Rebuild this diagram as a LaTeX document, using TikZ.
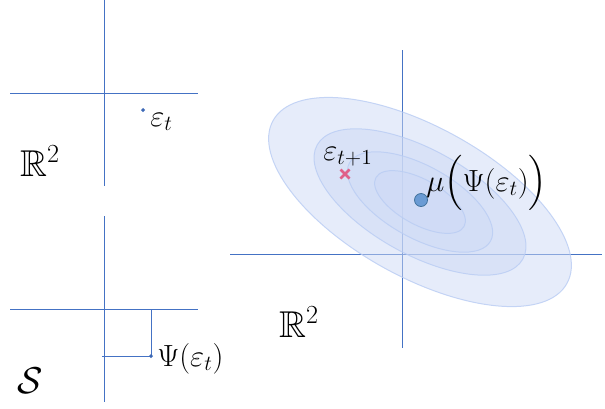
\RequirePackage{fix-cm}
\documentclass[tikz,border=0pt]{standalone}
\usepackage{amsmath}
\usepackage{amssymb}
\usepackage{tikz}
\DeclareFontFamily{U}{msb}{}
\DeclareFontShape{U}{msb}{m}{n}{<-> msbm10}{}

\definecolor{axe}{HTML}{4472C4}
\definecolor{nuage}{HTML}{CDD9F5}
\definecolor{bord}{HTML}{B9CCF3}
\definecolor{croix}{HTML}{E0608A}
\definecolor{moy}{HTML}{6A9BD4}
\definecolor{moybord}{HTML}{41719C}

\begin{document}
\begin{tikzpicture}[x=0.75pt,y=-0.75pt,
    axe/.style={draw=axe, line width=0.75pt},
    etiq/.style={inner sep=0pt, font=\fontsize{23}{27}\selectfont},
    espace/.style={inner sep=0pt, font=\fontsize{28}{32}\selectfont},
    niveau/.style={fill=nuage, fill opacity=0.5, draw=bord, draw opacity=0.8, line width=0.75pt}]
        \useasboundingbox (0,0) rectangle (605,408);

        % Espace de depart R^2
        \draw[axe] (104,0) -- (104,186);
        \draw[axe] (10,93) -- (198,93);
        \coordinate (eps) at (143,110);
        \fill[axe] (eps) circle (1.3);
        \node[etiq, anchor=base west] (epsl) at (150,126) {$\varepsilon_t$};
        \node[espace, anchor=base west] (R1) at (20,176) {$\mathbb{R}^2$};

        % Espace des etats S
        \draw[axe] (104,216) -- (104,402);
        \draw[axe] (10,309) -- (198,309);
        \coordinate (psi) at (151,356);
        \draw[axe] (151,309) -- (psi) -- (102,356);
        \fill[axe] (psi) circle (1.3);
        \node[etiq, anchor=base west] (psil) at (157,366) {$\Psi(\varepsilon_t)$};
        \node[espace, anchor=base west] (S) at (17,393) {$\mathcal{S}$};

        % Loi predictive
        \draw[axe] (402,50) -- (402,348);
        \draw[axe] (230,254) -- (602,254);
        \coordinate (c) at (420,202);
        \foreach \k in {1,0.7,0.48,0.3}
            \draw[niveau, rotate around={-29:(c)}] (c) ellipse [x radius=168*\k, y radius=75*\k];

        % Moyenne et observation
        \coordinate (mu) at (421,200);
        \filldraw[fill=moy, draw=moybord, line width=0.6pt] (mu) circle (6.5);
        \node[etiq, anchor=base west] (mul) at (426,191) {$\mu\Big(\Psi(\varepsilon_t)\Big)$};
        \coordinate (obs) at (345,174);
        \draw[croix, line width=2pt] ([shift={(-4.5,-4.5)}]obs) -- ([shift={(4.5,4.5)}]obs)
                                     ([shift={(-4.5,4.5)}]obs) -- ([shift={(4.5,-4.5)}]obs);
        \node[etiq, anchor=base west] (obsl) at (323,160) {$\varepsilon_{t+1}$};
        \node[espace, anchor=base west] (R2) at (279,337) {$\mathbb{R}^2$};
\end{tikzpicture}
\end{document}
